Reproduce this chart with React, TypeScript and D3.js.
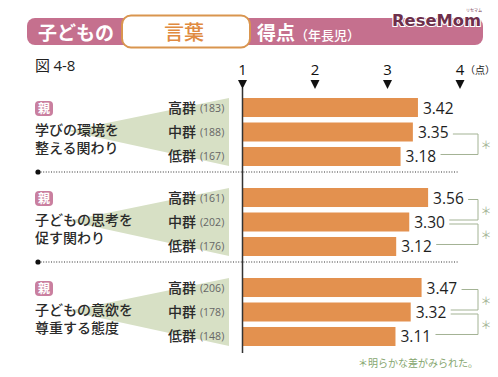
import React from "react";
import * as d3 from "d3";

const groupTitles = [
  ["学びの環境を", "整える関わり"],
  ["子どもの思考を", "促す関わり"],
  ["子どもの意欲を", "尊重する態度"],
];
const levels = ["高群", "中群", "低群"];
const counts = [
  [183, 188, 167],
  [161, 202, 176],
  [206, 178, 148],
];
const scores = [
  [3.42, 3.35, 3.18],
  [3.56, 3.3, 3.12],
  [3.47, 3.32, 3.11],
];
const sigPairs = [
  [[1, 2]],
  [[0, 1], [1, 2]],
  [[0, 1], [1, 2]],
];
const tickValues = [1, 2, 3, 4];

const JP = "'Noto Sans CJK JP', 'Noto Sans', sans-serif";
const NUM = "'Open Sans', 'Noto Sans', sans-serif";

const BAR = "#e3914f";
const WEDGE = "#d7e0c5";
const BRACKET = "#a3b394";
const PINK = "#c5708e";

export default function App() {
  const W = 498, H = 377;
  const x = d3.scaleLinear().domain([1, 4]).range([242.5, 460]);
  const gy = d3.scaleBand<number>().domain([0, 1, 2]).range([98, 368]).paddingInner(0).paddingOuter(0);
  const by = d3.scaleBand<string>().domain(levels).range([0, 68]).paddingInner(0.224);
  const bh = by.bandwidth();

  return (
    <svg width={W} height={H} style={{ position: "absolute", left: 0, top: 0, background: "#fff" }}>
      {/* Title bar */}
      <rect x={27} y={18} width={456} height={27} rx={8} fill={PINK} />
      <text x={38} y={40} fill="#fff" fontFamily={JP} fontWeight={700} fontSize={19}>子どもの</text>
      <rect x={122} y={15.5} width={128} height={32} rx={9} fill="#fff" stroke="#d9954f" strokeWidth={2} />
      <text x={184} y={40} textAnchor="middle" fill="#e08a40" fontFamily={JP} fontWeight={500} fontSize={20}>言葉</text>
      <text x={257} y={40} fill="#fff" fontFamily={JP} fontWeight={700} fontSize={19}>
        得点<tspan fontSize={13} fontWeight={500}>（年長児）</tspan>
      </text>
      <text x={392} y={26} fill="#6e2f4b" stroke="#fff" strokeWidth={2} paintOrder="stroke" fontFamily="'DejaVu Sans', sans-serif" fontWeight={700} fontSize={15} textLength={89} lengthAdjust="spacingAndGlyphs">ReseMom</text>
      <text x={466} y={12} fill="#6e2f4b" fontFamily={JP} fontSize={4}>リセマム</text>

      {/* figure label */}
      <text x={35} y={71} fill="#222" fontFamily={JP} fontSize={15}>図 <tspan fontFamily={NUM}>4-8</tspan></text>

      {/* groups */}
      {scores.map((vals, g) => {
        const top = gy(g)!;
        const tipX = 68, tipY = top + 33;
        return (
          <g key={g}>
            <polygon points={`${tipX},${tipY} 229,${top} 229,${top + 68}`} fill={WEDGE} />
            <rect x={35} y={top + 3} width={18} height={15} rx={4} fill="#c97f9f" />
            <text x={44} y={top + 15} textAnchor="middle" fill="#fff" fontFamily={JP} fontWeight={700} fontSize={12}>親</text>
            {groupTitles[g].map((t, i) => (
              <text key={i} x={35} y={top + 37 + i * 17.5} fill="#2a2a2a" fontFamily={JP} fontWeight={500} fontSize={14}>{t}</text>
            ))}
            {levels.map((lv, i) => {
              const yb = top + by(lv)!;
              const v = vals[i];
              return (
                <g key={lv}>
                  <text x={168} y={yb + bh / 2 + 5} fill="#2a2a2a" fontFamily={JP} fontWeight={500} fontSize={14}>{lv}</text>
                  <text x={200} y={yb + bh / 2 + 4} fill="#666" fontFamily={NUM} fontSize={10.5}>({counts[g][i]})</text>
                  <rect x={x(1)} y={yb} width={x(v) - x(1)} height={bh} fill={BAR} />
                  <text x={x(v) + 5} y={yb + bh / 2 + 6} fill="#1e1e1e" fontFamily={NUM} fontSize={15.5}>{v.toFixed(2)}</text>
                </g>
              );
            })}
            {sigPairs[g].map(([a, b], k) => {
              const ya = top + by(levels[a])! + bh / 2 + 2;
              const yb2 = top + by(levels[b])! + bh / 2 - 2;
              const xa = x(vals[a]) + 40;
              const xb = x(vals[b]) + 40;
              const vx = 478;
              return (
                <g key={k}>
                  <path d={`M${xa},${ya}H${vx}V${yb2}H${xb}`} fill="none" stroke={BRACKET} strokeWidth={1} />
                  <text x={486} y={(ya + yb2) / 2 + 5} textAnchor="middle" fill={BRACKET} fontFamily={JP} fontSize={11}>＊</text>
                </g>
              );
            })}
            {g < 2 && (
              <g>
                <line x1={38} x2={458} y1={top + 74} y2={top + 74} stroke="#333" strokeWidth={1.2} strokeDasharray="1 1.6" />
                <circle cx={38} cy={top + 74} r={2.6} fill="#111" />
              </g>
            )}
          </g>
        );
      })}

      {/* axis */}
      <line x1={x(1)} x2={x(1)} y1={88} y2={353} stroke="#333" strokeWidth={1.5} />
      {tickValues.map((t) => (
        <g key={t}>
          <text x={x(t)} y={75} textAnchor="middle" fill="#111" fontFamily={NUM} fontSize={15}>{t}</text>
          <path d={`M${x(t) - 4.5},${80}L${x(t) + 4.5},${80}L${x(t)},${89}Z`} fill="#111" />
        </g>
      ))}
      <text x={x(4) + 5} y={74} fill="#222" fontFamily={JP} fontSize={10}>（点）</text>

      {/* footnote */}
      <text x={478} y={367} textAnchor="end" fill="#86a66f" fontFamily={JP} fontSize={10}>＊明らかな差がみられた。</text>
    </svg>
  );
}
